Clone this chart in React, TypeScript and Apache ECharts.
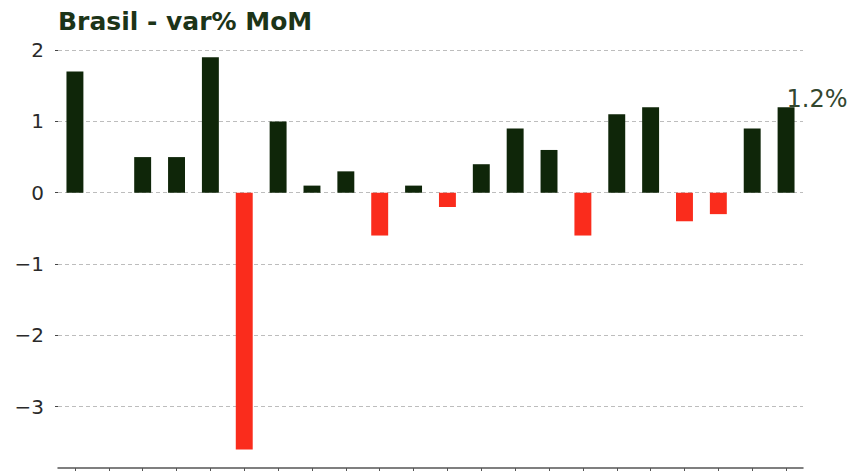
import React, { useEffect, useRef } from "react";
import * as echarts from "echarts";

const title = "Brasil - var% MoM";
const categories = [
  "1", "2", "3", "4", "5", "6", "7", "8", "9", "10", "11",
  "12", "13", "14", "15", "16", "17", "18", "19", "20", "21", "22",
];
const values = [1.7, 0, 0.5, 0.5, 1.9, -3.6, 1.0, 0.1, 0.3, -0.6, 0.1, -0.2, 0.4, 0.9, 0.6, -0.6, 1.1, 1.2, -0.4, -0.3, 0.9, 1.2];
const lastLabel = "1.2%";

const GREEN = "#0f2609";
const RED = "#fa2c1c";

export default function App() {
  const ref = useRef<HTMLDivElement>(null);
  useEffect(() => {
    document.body.style.margin = "0";
    const chart = echarts.init(ref.current!, null, { renderer: "svg" });
    const last = values.length - 1;
    chart.setOption({
      animation: false,
      backgroundColor: "#ffffff",
      title: {
        text: title,
        left: 53,
        top: 4,
        textStyle: {
          fontFamily: "DejaVu Sans",
          fontWeight: "bold",
          fontSize: 25,
          color: "#1c3418",
        },
      },
      grid: { left: 58, right: 51, top: 38, bottom: 3, containLabel: false },
      xAxis: {
        type: "category",
        data: categories,
        axisLine: { show: true, onZero: false, lineStyle: { color: "#555", width: 1.5 } },
        axisTick: { show: true, alignWithLabel: true, length: 4, lineStyle: { color: "#555" } },
        axisLabel: { show: false },
        splitLine: { show: false },
      },
      yAxis: {
        type: "value",
        min: -3.86,
        max: 2.17,
        splitNumber: 6,
        axisLine: { show: false },
        axisTick: { show: true, length: 3, lineStyle: { color: "#444" } },
        axisLabel: {
          showMinLabel: false,
          showMaxLabel: false,
          margin: 14,
          fontFamily: "DejaVu Sans",
          fontSize: 20,
          color: "#2a2a2a",
          formatter: (v: number) => String(Math.round(v)).replace("-", "\u2212"),
        },
        splitLine: {
          show: true,
          showMinLine: false,
          showMaxLine: false,
          lineStyle: { color: "#bdbdbd", type: [4, 3], width: 1 },
        },
      },
      series: [
        {
          type: "bar",
          barWidth: "50%",
          data: values.map((v, i) => ({
            value: v,
            itemStyle: { color: v >= 0 ? GREEN : RED },
            label:
              i === last
                ? {
                    show: true,
                    formatter: lastLabel,
                    position: [9, -8],
                    align: "left",
                    verticalAlign: "middle",
                    fontFamily: "DejaVu Sans",
                    fontSize: 24,
                    color: "#33472f",
                  }
                : { show: false },
          })),
        },
      ],
    });
    return () => chart.dispose();
  }, []);
  return <div ref={ref} style={{ width: 854, height: 471 }} />;
}
